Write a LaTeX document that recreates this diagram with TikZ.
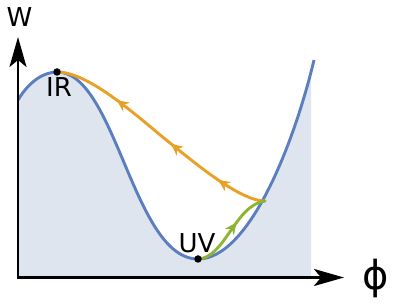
\documentclass[tikz,border=0pt]{standalone}
\usepackage{fontspec}
\setmainfont{DejaVu Sans}
\usetikzlibrary{arrows.meta,decorations.markings}
\definecolor{curveblue}{HTML}{5A7EBE}
\definecolor{fillblue}{HTML}{DEE5EF}
\definecolor{flowor}{HTML}{E8A026}
\definecolor{flowgr}{HTML}{8DB432}
\tikzset{
  axisline/.style={line width=2.6pt, black, line join=miter,
    {Stealth[length=30pt,width=17pt,inset=7pt]}-{Stealth[length=30pt,width=17pt,inset=7pt]}},
  potential/.style={line width=2.9pt, curveblue},
  flowline/.style={line width=2.9pt, line cap=round},
  flowtip/.style={decoration={markings,
     mark=at position #1 with {\arrow{Stealth[length=12pt,width=11pt,inset=4pt]}}},
     postaction=decorate},
  lbl/.style={font=\fontsize{26}{30}\selectfont, inner sep=0pt},
  dotpt/.style={circle, fill=black, inner sep=0pt, minimum size=7.5pt}
}
\begin{document}
\begin{tikzpicture}[x=1pt,y=-1pt]
\useasboundingbox (0,0) rectangle (415,304);
\coordinate (S) at (18,100);
\coordinate (IR) at (57,72);
\coordinate (UV) at (198,259);
\coordinate (E) at (314,60);
\coordinate (P) at (265,201);
\coordinate (M) at (170,143);
\coordinate (O) at (18,277.5);
\coordinate (Ytip) at (18,37);
\coordinate (Xtip) at (344,277.5);
% fill under the potential
\begin{scope}
  \clip (18,0) rectangle (311,277.5);
  \fill[fillblue] (S) .. controls (30,80) and (45,72) .. (IR)
     .. controls (116,72) and (133,259) .. (UV)
     .. controls (250,259) and (295,140) .. (E)
     -- (314,277.5) -- (18,277.5) -- cycle;
\end{scope}
% potential curve
\draw[potential] (S) .. controls (30,80) and (45,72) .. (IR)
     .. controls (116,72) and (133,259) .. (UV)
     .. controls (250,259) and (295,140) .. (E);
% orange flow
\draw[flowline, flowor, decoration={markings,
     mark=at position 0.21 with {\arrow{Stealth[length=12pt,width=11pt,inset=4pt]}},
     mark=at position 0.45 with {\arrow{Stealth[length=12pt,width=11pt,inset=4pt]}},
     mark=at position 0.73 with {\arrow{Stealth[length=12pt,width=11pt,inset=4pt]}}},
     postaction=decorate]
  (P) .. controls (240,201) and (195,163) .. (M)
      .. controls (140,119) and (90,72) .. (IR);
% green flow
\draw[flowline, flowgr, flowtip=0.6]
  (UV) .. controls (225,258) and (235,205) .. (P);
% axes
\draw[axisline] (Ytip) -- (O) -- (Xtip);
% points
\node[dotpt] (irdot) at (IR) {};
\node[dotpt] (uvdot) at (UV) {};
% labels
\node[lbl] (wlabel) at (19.5,17.5) {W};
\node[lbl, font=\fontsize{40}{44}\selectfont] (philabel) at (375.5,278) {ϕ};
\node[lbl] (irlabel) at (59,87.5) {IR};
\node[lbl] (uvlabel) at (197,243) {UV};
\end{tikzpicture}
\end{document}
